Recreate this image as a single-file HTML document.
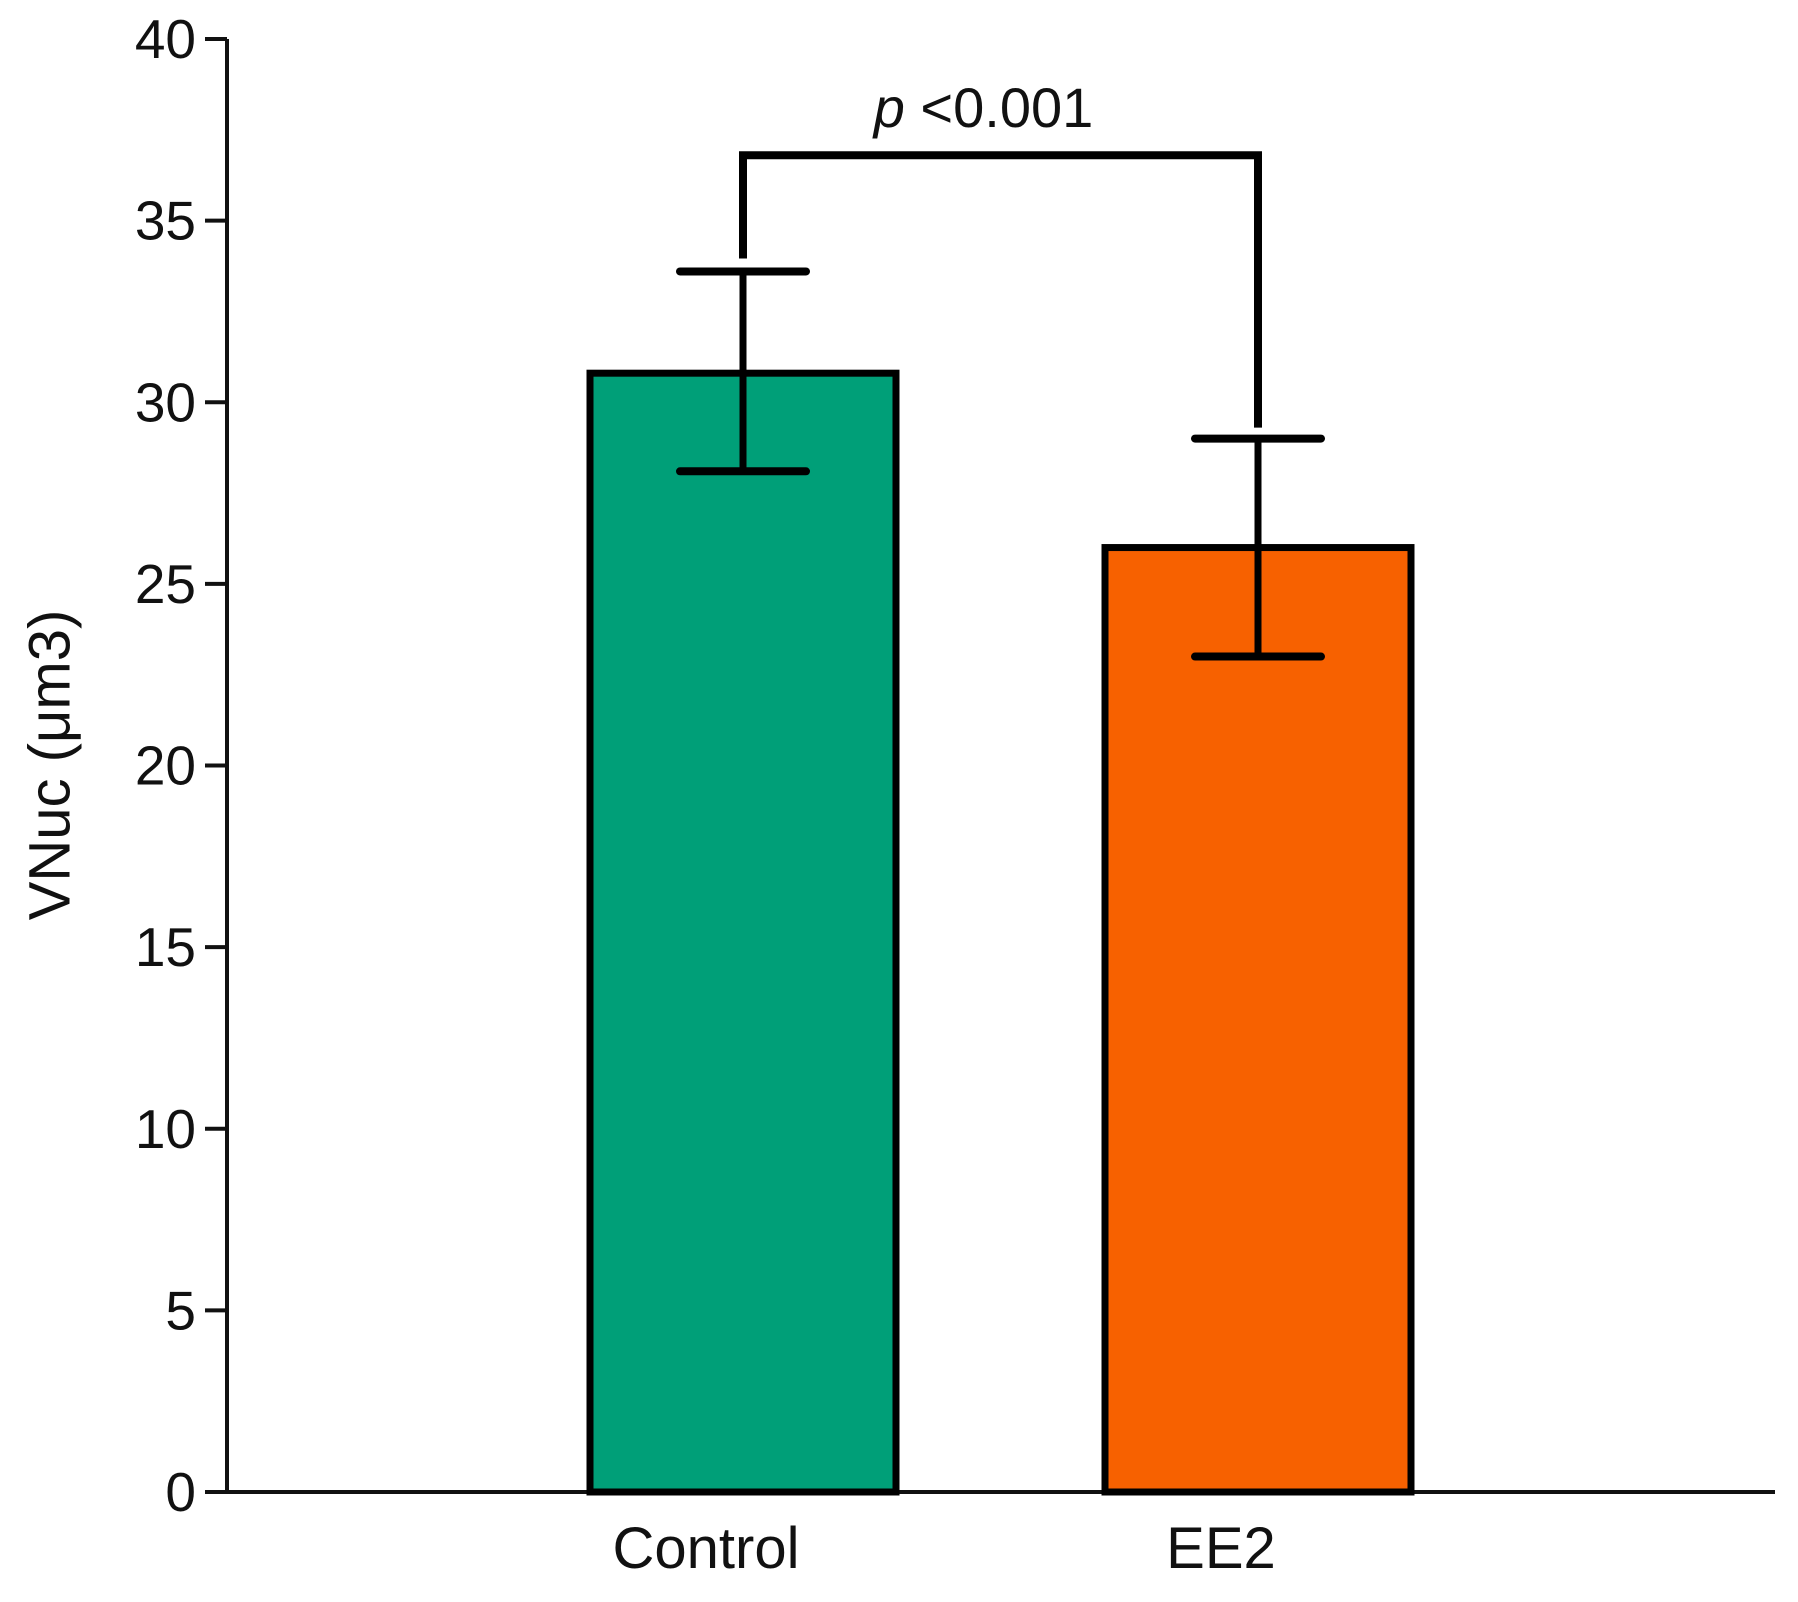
<!DOCTYPE html>
<html><head><meta charset="utf-8"><style>
html,body{margin:0;padding:0;background:#fff;}
svg{display:block;}
text{font-family:"Liberation Sans",sans-serif;fill:#111;}
</style></head><body>
<svg id="chart" width="1798" height="1602" viewBox="0 0 1798 1602">
<g id="axes"></g>
<g id="bars"></g>
<text x="50" y="765" font-size="58" text-anchor="middle" transform="rotate(-90 50 765)" dominant-baseline="central">VNuc (μm3)</text>
</svg>
<script>
const categories = ["Control", "EE2"];
const means = [30.8, 26.0];
const upperErr = [33.6, 29.0];
const lowerErr = [28.1, 23.0];
const yTicks = [0, 5, 10, 15, 20, 25, 30, 35, 40];
const bracketValue = 36.8;
const pLabel = "<0.001";
const colors = ["#009f78", "#f76100"];

const NS = "http://www.w3.org/2000/svg";
const y0 = 1492, y40 = 39;
function yScale(v){ return y0 - (v/40)*(y0 - y40); }
const centers = [743, 1258];
function xScale(i){ return centers[i]; }
const barW = 306, capW = 126;
function mk(tag, attrs, parent){
  const e = document.createElementNS(NS, tag);
  for (const k in attrs) e.setAttribute(k, attrs[k]);
  parent.appendChild(e);
  return e;
}
const axes = document.getElementById('axes');
const bars = document.getElementById('bars');

let yl = mk('line', {x1:227, y1:y40, x2:227, y2:y0, stroke:'#111', 'stroke-width':4}, axes);


yTicks.forEach(t => {
  const y = yScale(t);
  const tk = mk('line', {x1:205, y1:y, x2:227, y2:y, stroke:'#111', 'stroke-width':4}, axes);
  
  
  const tl = mk('text', {x:196, y:y, 'font-size':55, 'text-anchor':'end', 'dominant-baseline':'central'}, axes);
  tl.textContent = t;
  
  
});

categories.forEach((c, i) => {
  const cx = xScale(i);
  const top = yScale(means[i]);
  const r = mk('rect', {x:cx - barW/2, y:top, width:barW, height:y0 - top, fill:colors[i], stroke:'#000', 'stroke-width':7}, bars);
  
  
  const el = mk('line', {x1:cx, y1:yScale(upperErr[i]), x2:cx, y2:yScale(lowerErr[i]), stroke:'#000', 'stroke-width':7}, bars);
  
  
  [upperErr[i], lowerErr[i]].forEach(v => {
    const cap = mk('line', {x1:cx - capW/2, y1:yScale(v), x2:cx + capW/2, y2:yScale(v), stroke:'#000', 'stroke-width':8, 'stroke-linecap':'round'}, bars);
    
    
  });
  const lb = mk('text', {x:cx - 37, y:1568, 'font-size':58, 'text-anchor':'middle'}, axes);
  lb.textContent = c;
  
  
});

let xl = mk('line', {x1:205, y1:y0, x2:1775, y2:y0, stroke:'#111', 'stroke-width':4}, axes);



const by = yScale(bracketValue);
const br = mk('polyline', {points:`${xScale(0)},${yScale(upperErr[0])-13} ${xScale(0)},${by} ${xScale(1)},${by} ${xScale(1)},${yScale(upperErr[1])-11}`, fill:'none', stroke:'#000', 'stroke-width':8}, bars);


const pt = mk('text', {x:(xScale(0)+xScale(1))/2 - 17, y:by - 28, 'font-size':56, 'text-anchor':'middle'}, bars);


const ts = mk('tspan', {'font-style':'italic'}, pt); ts.textContent = 'p ';
const ts2 = mk('tspan', {}, pt); ts2.textContent = pLabel;
</script>
</body></html>
